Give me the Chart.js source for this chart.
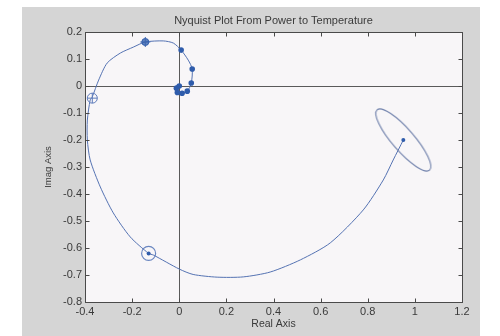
<!DOCTYPE html>
<html>
<head>
<meta charset="utf-8">
<script src="https://cdn.jsdelivr.net/npm/chart.js@4.4.1/dist/chart.umd.min.js"></script>
<style>
  html, body { margin: 0; padding: 0; background: #ffffff; }
  canvas { display: block; }
</style>
</head>
<body>
<canvas id="c" width="500" height="336"></canvas>
<script>
// ---- data ----
const titleText = 'Nyquist Plot From Power to Temperature';
const xAxisTitle = 'Real Axis';
const yAxisTitle = 'Imag Axis';

const xTickValues = [-0.4, -0.2, 0, 0.2, 0.4, 0.6, 0.8, 1, 1.2];
const xTickLabels = ['-0.4', '-0.2', '0', '0.2', '0.4', '0.6', '0.8', '1', '1.2'];
const yTickValues = [-0.8, -0.7, -0.6, -0.5, -0.4, -0.3, -0.2, -0.1, 0, 0.1, 0.2];
const yTickLabels = ['-0.8', '-0.7', '-0.6', '-0.5', '-0.4', '-0.3', '-0.2', '-0.1', '0', '0.1', '0.2'];

// Nyquist curve (real, imag), from the high-frequency start to the origin
const curveRe = [0.951, 0.908, 0.866, 0.781, 0.641, 0.514, 0.386, 0.272, 0.161, 0.059, 0.0, -0.11, -0.13,
  -0.208, -0.28, -0.335, -0.378, -0.39, -0.39, -0.378, -0.369, -0.342, -0.306, -0.25, -0.195, -0.144,
  -0.068, -0.025, 0.008, 0.038, 0.055, 0.051, 0.034, 0.004, -0.017, -0.008, 0.0];
const curveIm = [-0.2, -0.274, -0.348, -0.459, -0.581, -0.644, -0.689, -0.707, -0.708, -0.698, -0.678, -0.626, -0.62,
  -0.559, -0.47, -0.374, -0.274, -0.2, -0.126, -0.052, -0.04, 0.022, 0.085, 0.122, 0.144, 0.163,
  0.167, 0.159, 0.133, 0.096, 0.063, 0.011, -0.019, -0.026, -0.007, 0.004, 0.0];

// filled frequency markers
const dotRe = [0.008, 0.055, 0.051, 0.034, 0.012, -0.008, -0.012, 0.0];
const dotIm = [0.133, 0.063, 0.011, -0.019, -0.027, -0.024, -0.008, 0.0];

// special markers
const crossDotRe = [-0.144];   const crossDotIm = [0.163];   // filled circle with cross
const crossRingRe = [-0.369];  const crossRingIm = [-0.045]; // open circle with cross
const ringRe = [-0.13];        const ringIm = [-0.62];       // open circle with centre dot
const startRe = [0.951];       const startIm = [-0.2];       // start point with ellipse

// ---- styling ----
const FONT = "'Liberation Sans', Arial, sans-serif";
const TEXT = '#3a3a3a';
const LINE = '#5573b3';
const MARK = '#2f5cab';

function pts(xs, ys) { return xs.map((x, i) => ({ x: x, y: ys[i] })); }

// ellipse marker image (style only)
const ell = document.createElement('canvas');
ell.width = 96; ell.height = 96;
(function () {
  const g = ell.getContext('2d');
  g.translate(48, 48);
  g.rotate(49 * Math.PI / 180);
  g.beginPath();
  g.ellipse(0, 0, 40, 11, 0, 0, Math.PI * 2);
  g.strokeStyle = '#6f80ab';
  g.lineWidth = 1.1;
  g.stroke();
})();

const frame = {
  id: 'frame',
  beforeDraw(chart) {
    const c = chart.ctx, a = chart.chartArea;
    c.save();
    c.fillStyle = '#ffffff';
    c.fillRect(0, 0, chart.width, chart.height);
    c.fillStyle = '#d5d5d5';
    c.fillRect(22, 7, 458, 329);
    c.fillStyle = '#f8f6f8';
    c.fillRect(a.left, a.top, a.right - a.left, a.bottom - a.top);
    c.restore();
  },
  beforeDatasetsDraw(chart) {
    const c = chart.ctx, a = chart.chartArea;
    const xs = chart.scales.x, ys = chart.scales.y;
    const x0 = Math.round(xs.getPixelForValue(0)) + 0.5;
    const y0 = Math.round(ys.getPixelForValue(0)) + 0.5;
    c.save();
    c.strokeStyle = '#5a5a5a';
    c.lineWidth = 1;
    c.beginPath();
    c.moveTo(x0, a.top); c.lineTo(x0, a.bottom);
    c.moveTo(a.left, y0); c.lineTo(a.right, y0);
    c.stroke();
    c.restore();
  },
  afterDraw(chart) {
    const c = chart.ctx, a = chart.chartArea;
    const xs = chart.scales.x, ys = chart.scales.y;
    const L = Math.round(a.left) + 0.5, R = Math.round(a.right) + 0.5;
    const T = Math.round(a.top) + 0.5, B = Math.round(a.bottom) + 0.5;
    c.save();
    c.strokeStyle = '#4a4a4a';
    c.lineWidth = 1;
    c.strokeRect(L, T, R - L, B - T);
    c.beginPath();
    xs.ticks.forEach(t => {
      const px = Math.round(xs.getPixelForValue(t.value)) + 0.5;
      c.moveTo(px, B); c.lineTo(px, B - 4);
      c.moveTo(px, T); c.lineTo(px, T + 4);
    });
    ys.ticks.forEach(t => {
      const py = Math.round(ys.getPixelForValue(t.value)) + 0.5;
      c.moveTo(L, py); c.lineTo(L + 4, py);
      c.moveTo(R, py); c.lineTo(R - 4, py);
    });
    c.stroke();
    c.restore();
  }
};

new Chart(document.getElementById('c'), {
  type: 'scatter',
  data: {
    datasets: [
      { data: pts(curveRe, curveIm), showLine: true, borderColor: LINE, borderWidth: 1, pointRadius: 0, tension: 0.25, order: 5 },
      { data: pts(dotRe, dotIm), showLine: false, pointRadius: 2.8, pointBackgroundColor: MARK, pointBorderColor: MARK, borderWidth: 0, order: 1 },
      { data: pts(crossDotRe, crossDotIm), showLine: false, pointRadius: 3.5, pointBackgroundColor: 'rgba(47,92,171,0.75)', pointBorderColor: MARK, pointBorderWidth: 1, order: 1 },
      { data: pts(crossDotRe, crossDotIm), showLine: false, pointStyle: 'cross', pointRadius: 5, pointBorderColor: '#3e66b0', pointBorderWidth: 1, order: 0 },
      { data: pts(crossRingRe, crossRingIm), showLine: false, pointRadius: 5, pointBackgroundColor: 'rgba(0,0,0,0)', pointBorderColor: '#5d7bbb', pointBorderWidth: 1, order: 1 },
      { data: pts(crossRingRe, crossRingIm), showLine: false, pointStyle: 'cross', pointRadius: 5, pointBorderColor: '#5d7bbb', pointBorderWidth: 1, order: 1 },
      { data: pts(ringRe, ringIm), showLine: false, pointRadius: 7, pointBackgroundColor: 'rgba(0,0,0,0)', pointBorderColor: '#6a86c0', pointBorderWidth: 1.2, order: 1 },
      { data: pts(ringRe, ringIm), showLine: false, pointRadius: 2, pointBackgroundColor: MARK, pointBorderColor: MARK, pointBorderWidth: 0, order: 1 },
      { data: pts(startRe, startIm), showLine: false, pointRadius: 2, pointBackgroundColor: MARK, pointBorderColor: MARK, pointBorderWidth: 0, order: 1 },
      { data: pts(startRe, startIm), showLine: false, pointStyle: ell, pointRadius: 40, order: 1 }
    ]
  },
  options: {
    responsive: false,
    animation: false,
    devicePixelRatio: 1,
    layout: { autoPadding: false, padding: { left: 22, right: 38, top: 0, bottom: 0 } },
    plugins: {
      legend: { display: false },
      tooltip: { enabled: false },
      title: {
        display: true, text: titleText, fullSize: false, color: TEXT,
        font: { family: FONT, size: 11, weight: 'normal', lineHeight: 1.2 },
        padding: { top: 14, bottom: 4.8 }
      }
    },
    scales: {
      x: {
        type: 'linear', min: -0.4, max: 1.2,
        afterBuildTicks: s => { s.ticks = xTickValues.map(v => ({ value: v })); },
        afterFit: s => { s.height = 34; },
        grid: { display: false, drawTicks: false },
        border: { display: false },
        ticks: {
          color: TEXT, font: { family: FONT, size: 11 }, padding: 3,
          maxRotation: 0, autoSkip: false,
          callback: (v, i) => xTickLabels[i]
        },
        title: {
          display: true, text: xAxisTitle, color: TEXT,
          font: { family: FONT, size: 10.5, lineHeight: 1.2 }, padding: { top: 0, bottom: 5.7 }
        }
      },
      y: {
        type: 'linear', min: -0.8, max: 0.2,
        afterBuildTicks: s => { s.ticks = yTickValues.map(v => ({ value: v })); },
        afterFit: s => { s.width = 63; },
        grid: { display: false, drawTicks: false },
        border: { display: false },
        ticks: {
          color: TEXT, font: { family: FONT, size: 11 }, padding: 3,
          autoSkip: false,
          callback: (v, i) => yTickLabels[i]
        },
        title: {
          display: true, text: yAxisTitle, color: TEXT,
          font: { family: FONT, size: 9.5 }, padding: { top: 21, bottom: 0 }
        }
      }
    }
  },
  plugins: [frame]
});
</script>
</body>
</html>
